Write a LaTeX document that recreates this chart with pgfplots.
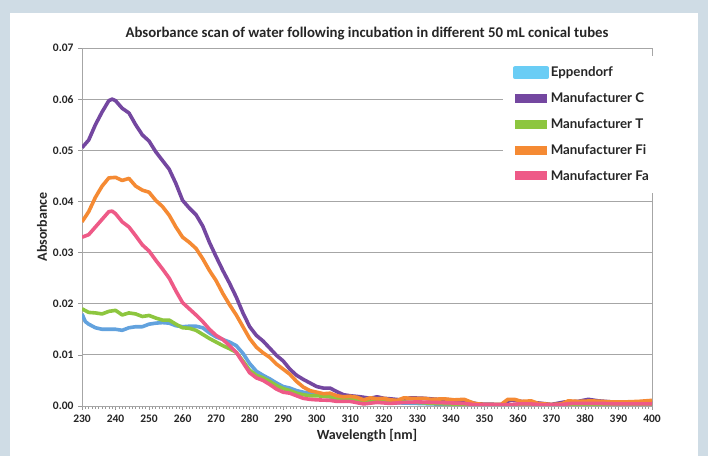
\documentclass[border=0pt]{standalone}
\usepackage{pgfplots}
\pgfplotsset{compat=1.18}
\usepackage{fontspec}
\setmainfont{Carlito}
\newfontfamily\legfont{Lato}
\definecolor{bgc}{HTML}{CFDCE5}
\definecolor{cepp}{HTML}{62A2DE}
\definecolor{ceppleg}{HTML}{6ACDF5}
\definecolor{cC}{HTML}{7447A0}
\definecolor{cT}{HTML}{8DC63F}
\definecolor{cFi}{HTML}{F58A33}
\definecolor{cFa}{HTML}{EE5A87}
\begin{document}
\begin{tikzpicture}[x=1bp,y=1bp]
\fill[bgc] (0,0) rectangle (708,456);
\fill[white] (10,0) rectangle (698,443);
\node[font=\bfseries\fontsize{14.8bp}{16bp}\selectfont, text=black!85] at (367,422) {Absorbance scan of water following incubation in different 50 mL conical tubes};
\begin{axis}[
  at={(82bp,50bp)}, anchor=south west,
  scale only axis, width=570bp, height=358bp,
  xmin=230, xmax=400, ymin=0, ymax=0.07,
  xtick={230,240,...,400}, minor x tick num=9,
  ytick={0,0.01,0.02,0.03,0.04,0.05,0.06,0.07},
  yticklabel style={xshift=-1bp, /pgf/number format/.cd, fixed, fixed zerofill, precision=2},
  /pgf/number format/assume math mode=true,
  scaled y ticks=false,
  tick pos=left, tick align=outside,
  major tick length=4bp, minor tick length=3bp,
  every tick/.style={black!40, line width=0.6bp},
  ymajorgrids, grid style={black!35, line width=0.8bp},
  axis line style={black!35, line width=0.8bp},
  ticklabel style={font=\bfseries\fontsize{11.5bp}{13bp}\selectfont, text=black!85},
  xticklabel style={yshift=-1bp},
  xlabel={Wavelength [nm]}, ylabel={Absorbance},
  label style={font=\bfseries\fontsize{14bp}{15bp}\selectfont, text=black!85},
  xlabel style={yshift=0bp},
  ylabel style={yshift=-1bp},
  legend cell align=left,
  legend style={at={(0.7386,0.978)}, anchor=north west, draw=none, fill=white,
    inner xsep=10bp, inner ysep=9bp,
    font=\legfont\bfseries\fontsize{13.3bp}{15bp}\selectfont, text=black!85,
    row sep=10.5bp,
    /tikz/every even column/.append style={column sep=5bp}},
  legend image code/.code={\fill[#1,draw=none] (0bp,-4.5bp) rectangle (32bp,4.5bp);},
  every axis plot/.append style={line width=3.6bp, line join=round}
]
\addplot[cepp, legend image code/.code={\fill[ceppleg] (0bp,-4.5bp) rectangle (32bp,4.5bp);}] coordinates {
(230,0.0180)(231,0.0165)(232,0.0160)(234,0.0153)(236,0.0150)(238,0.0150)(240,0.0150)(242,0.0148)(244,0.0153)(246,0.0155)(248,0.0155)(250,0.0160)(252,0.0162)(254,0.0163)(256,0.0162)(258,0.0157)(260,0.0155)(262,0.0156)(264,0.0156)(266,0.0153)(268,0.0143)(270,0.0135)(272,0.0130)(274,0.0125)(276,0.0118)(278,0.0103)(280,0.0083)(282,0.0068)(284,0.0060)(286,0.0053)(288,0.0045)(290,0.0038)(292,0.0035)(294,0.0030)(296,0.0027)(298,0.0025)(300,0.0022)(304,0.0018)(308,0.0012)(312,0.0010)(316,0.0008)(320,0.0008)(325,0.0006)(330,0.0005)(340,0.0003)(350,0.0001)(400,0.0001)
};
\addlegendentry{Eppendorf}
\addplot[cC] coordinates {
(230,0.0505)(232,0.0520)(234,0.0550)(236,0.0575)(238,0.0597)(239,0.0600)(240,0.0597)(242,0.0582)(244,0.0573)(246,0.0550)(248,0.0530)(250,0.0518)(252,0.0497)(254,0.0480)(256,0.0463)(258,0.0435)(260,0.0402)(262,0.0387)(264,0.0374)(266,0.0352)(268,0.0320)(270,0.0292)(272,0.0265)(274,0.0240)(276,0.0213)(278,0.0182)(280,0.0155)(282,0.0138)(284,0.0127)(286,0.0113)(288,0.0099)(290,0.0088)(292,0.0072)(294,0.0060)(296,0.0052)(298,0.0045)(300,0.0038)(302,0.0035)(304,0.0035)(306,0.0028)(308,0.0022)(310,0.0020)(313,0.0018)(316,0.0015)(318,0.0018)(320,0.0015)(322,0.0014)(325,0.0012)(328,0.0016)(332,0.0015)(336,0.0013)(340,0.0012)(344,0.0010)(348,0.0004)(355,0.0003)(358,0.0012)(362,0.0008)(366,0.0006)(370,0.0003)(374,0.0008)(378,0.0009)(381,0.0013)(384,0.0010)(388,0.0008)(392,0.0008)(396,0.0008)(400,0.0009)
};
\addlegendentry{Manufacturer C}
\addplot[cT] coordinates {
(230,0.0190)(232,0.0183)(234,0.0182)(236,0.0180)(238,0.0185)(240,0.0187)(242,0.0178)(244,0.0182)(246,0.0180)(248,0.0175)(250,0.0177)(252,0.0172)(254,0.0168)(256,0.0168)(258,0.0160)(260,0.0153)(262,0.0152)(264,0.0148)(266,0.0140)(268,0.0132)(270,0.0125)(272,0.0118)(274,0.0112)(276,0.0105)(278,0.0088)(280,0.0070)(282,0.0060)(284,0.0055)(286,0.0048)(288,0.0040)(290,0.0034)(292,0.0030)(294,0.0025)(296,0.0022)(298,0.0020)(300,0.0020)(304,0.0018)(308,0.0013)(312,0.0012)(316,0.0009)(320,0.0009)(325,0.0008)(330,0.0007)(335,0.0005)(340,0.0004)(344,0.0002)(350,0.0001)(400,0.0002)
};
\addlegendentry{Manufacturer T}
\addplot[cFi] coordinates {
(230,0.0360)(232,0.0380)(234,0.0408)(236,0.0430)(238,0.0446)(240,0.0447)(242,0.0441)(244,0.0445)(246,0.0430)(248,0.0422)(250,0.0418)(252,0.0402)(254,0.0390)(256,0.0373)(258,0.0350)(260,0.0330)(262,0.0320)(264,0.0308)(266,0.0288)(268,0.0265)(270,0.0245)(272,0.0220)(274,0.0198)(276,0.0178)(278,0.0155)(280,0.0132)(282,0.0115)(284,0.0104)(286,0.0095)(288,0.0082)(290,0.0072)(292,0.0062)(294,0.0048)(296,0.0037)(298,0.0030)(300,0.0027)(302,0.0024)(304,0.0025)(306,0.0020)(308,0.0018)(310,0.0019)(312,0.0017)(314,0.0012)(316,0.0016)(318,0.0014)(320,0.0015)(322,0.0012)(324,0.0011)(326,0.0016)(328,0.0015)(332,0.0015)(334,0.0013)(338,0.0014)(341,0.0012)(344,0.0013)(347,0.0005)(350,0.0003)(355,0.0003)(357,0.0013)(359,0.0013)(361,0.0009)(364,0.0010)(366,0.0005)(370,0.0003)(373,0.0004)(375,0.0010)(378,0.0009)(382,0.0010)(385,0.0009)(388,0.0008)(392,0.0008)(396,0.0009)(398,0.0010)(400,0.0011)
};
\addlegendentry{Manufacturer Fi}
\addplot[cFa] coordinates {
(230,0.0330)(232,0.0335)(234,0.0350)(236,0.0365)(238,0.0380)(239,0.0381)(240,0.0376)(242,0.0360)(244,0.0350)(246,0.0333)(248,0.0315)(250,0.0303)(252,0.0285)(254,0.0268)(256,0.0250)(258,0.0225)(260,0.0202)(262,0.0190)(264,0.0178)(266,0.0165)(268,0.0150)(270,0.0138)(272,0.0130)(274,0.0118)(276,0.0105)(278,0.0085)(280,0.0065)(282,0.0055)(284,0.0050)(286,0.0042)(288,0.0033)(290,0.0027)(292,0.0025)(294,0.0020)(296,0.0015)(298,0.0013)(300,0.0012)(304,0.0011)(306,0.0009)(310,0.0009)(314,0.0004)(318,0.0007)(322,0.0005)(326,0.0007)(330,0.0008)(335,0.0007)(340,0.0006)(344,0.0005)(348,0.0002)(352,0.0002)(356,0.0002)(360,0.0004)(364,0.0004)(368,0.0002)(372,0.0002)(376,0.0005)(380,0.0005)(385,0.0005)(390,0.0004)(395,0.0004)(400,0.0004)
};
\addlegendentry{Manufacturer Fa}
\end{axis}
\end{tikzpicture}
\end{document}
